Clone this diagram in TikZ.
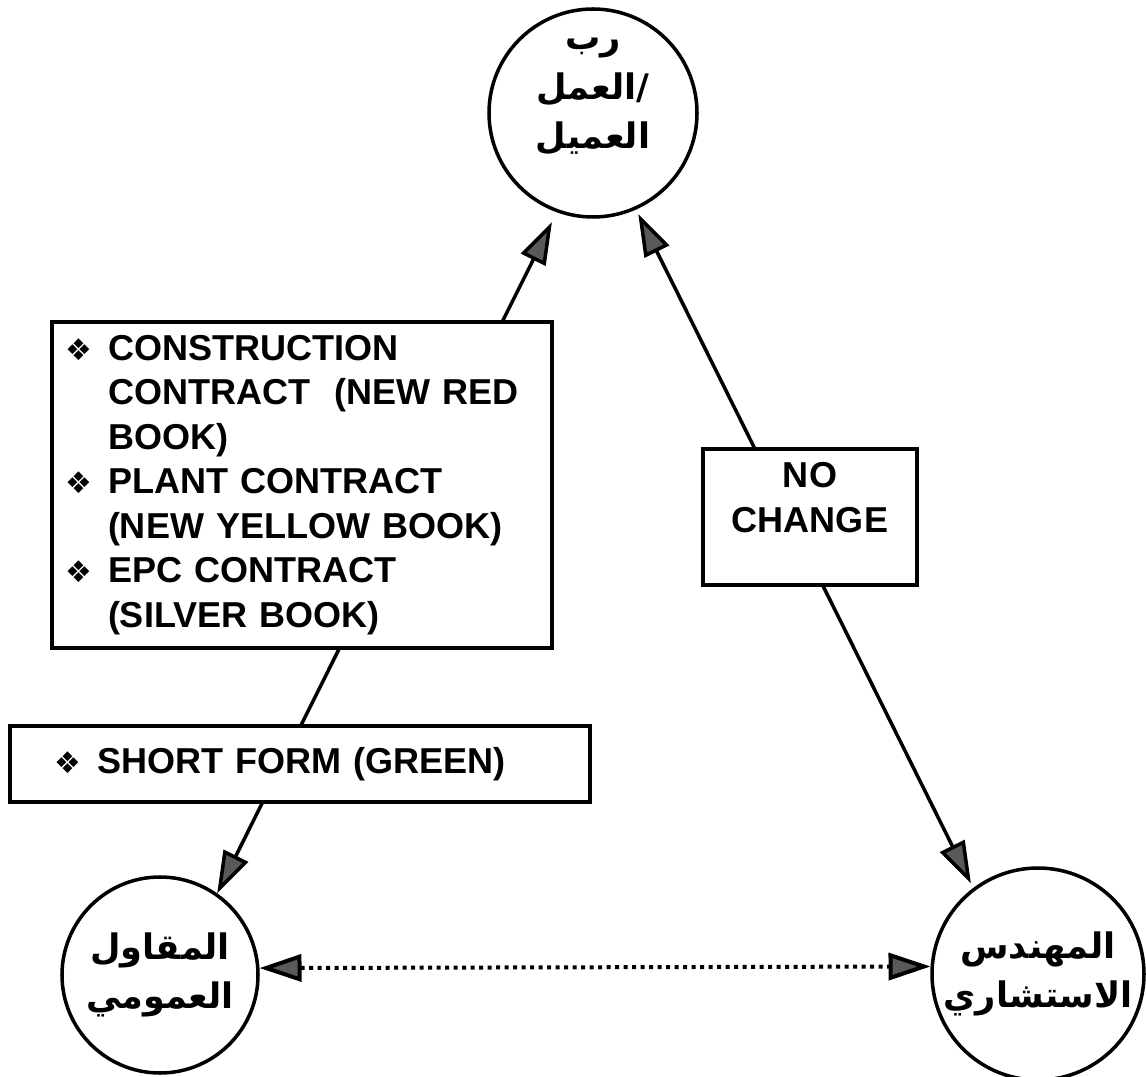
\documentclass[tikz,border=0pt]{standalone}
\usepackage{fontspec}
\usetikzlibrary{arrows.meta}
\setmainfont{Liberation Sans}
\newfontfamily\arabicfont[Script=Arabic]{DejaVu Sans}
\newfontfamily\symbolfont{DejaVu Sans}
\TeXXeTstate=1
\definecolor{tipgray}{gray}{0.35}
\newcommand{\bul}{\makebox[0.86cm][l]{\fontsize{17}{17}\selectfont\symbolfont ❖}}
\newcommand{\ind}{\hspace*{0.86cm}}
\newcommand{\boxfont}{\fontsize{20.5}{25.3}\selectfont\bfseries}

\tikzset{
	party/.style={circle,draw,line width=2pt,inner sep=0pt},
	arabic/.style={font=\fontsize{20}{28}\selectfont\arabicfont\bfseries,align=center},
	textbox/.style={draw,fill=white,line width=2pt,font=\boxfont},
	bigtip/.style={{Triangle[length=0.84cm,width=0.54cm,fill=tipgray]}-{Triangle[length=0.84cm,width=0.54cm,fill=tipgray]}},
	twoway/.style={bigtip,line width=2pt},
	dotline/.style={bigtip,line width=0.08cm,dash pattern=on 0.08cm off 0.09cm}
}

\begin{document}
\begin{tikzpicture}
			\useasboundingbox (0,0) rectangle (22.92,21.52);

			% the three parties
			\node (owner) at (11.86,19.26)[party,minimum size=4.16cm]{};
			\node (ownertext) at (11.86,19.59)[arabic]{\beginR رب\endR\\\beginR العمل\endR/\\\beginR العميل\endR};
			\node (contractor) at (3.2,2.02)[party,minimum size=3.92cm,arabic]{\beginR المقاول\endR\\\beginR العمومي\endR};
			\node (engineer) at (20.76,2.04)[party,minimum size=4.24cm,arabic]{\beginR المهندس\endR\\\beginR الاستشاري\endR};

			% links
			\draw[twoway,shorten >=0.22cm] (contractor.55) -- (owner.-110);
			\draw[twoway,shorten >=0.1cm,shorten <=0.1cm] (engineer.127) -- (owner.-66);
			\draw[dotline] (contractor.4) -- (engineer.176);

			% contract forms
			\node (books) at (6.04,11.82)[textbox,minimum width=10cm,minimum height=6.52cm,text width=9.48cm,inner xsep=0.26cm,align=left]{\bul CONSTRUCTION\\\ind CONTRACT~~(NEW RED\\\ind BOOK)\\\bul PLANT CONTRACT\\\ind (NEW YELLOW BOOK)\\\bul EPC CONTRACT\\\ind (SILVER BOOK)};
			\node (green) at (6.0,6.24)[textbox,minimum width=11.6cm,minimum height=1.52cm,text width=9.84cm,inner xsep=0.88cm,align=left]{\bul SHORT FORM (GREEN)};

			\node (nochange) at (16.2,11.18)[textbox,minimum width=4.28cm,minimum height=2.72cm]{};
			\node (nochangetext) at (nochange.north)[anchor=north,yshift=-0.3cm,inner sep=0pt,align=center,font=\boxfont]{NO\\CHANGE};
		\end{tikzpicture}
\end{document}
